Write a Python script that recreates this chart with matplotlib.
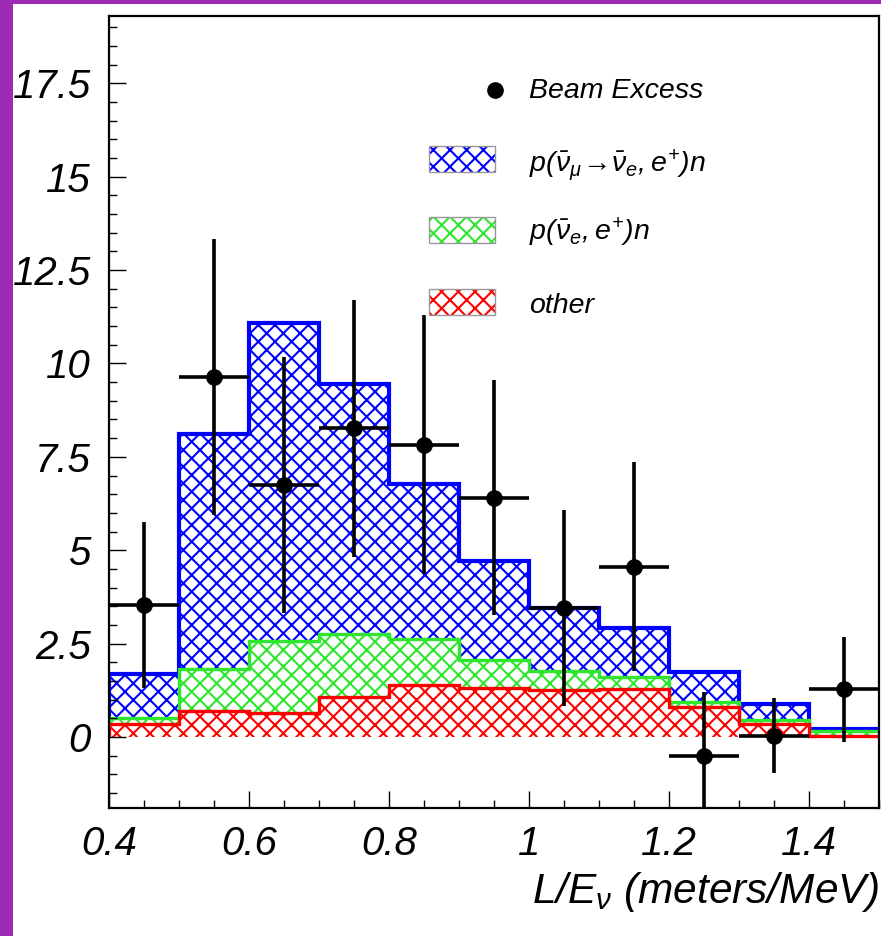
import numpy as np
import matplotlib
matplotlib.use('Agg')
import matplotlib.pyplot as plt
from matplotlib.patches import Rectangle
from matplotlib.ticker import MultipleLocator, FixedLocator, FixedFormatter

plt.rcParams['font.family'] = ['Liberation Sans', 'DejaVu Sans']
plt.rcParams['font.style'] = 'italic'
plt.rcParams['mathtext.fontset'] = 'custom'
plt.rcParams['mathtext.it'] = 'Liberation Sans:italic'
plt.rcParams['mathtext.rm'] = 'Liberation Sans:italic'
plt.rcParams['mathtext.sf'] = 'Liberation Sans:italic'
plt.rcParams['hatch.linewidth'] = 1.5

# L/E bins (meters/MeV)
bin_edges = [0.4, 0.5, 0.6, 0.7, 0.8, 0.9, 1.0, 1.1, 1.2, 1.3, 1.4, 1.5]

# expected event components per bin
other_bkg = [0.34, 0.70, 0.63, 1.06, 1.38, 1.30, 1.26, 1.28, 0.81, 0.36, 0.03]
nue_bkg = [0.16, 1.11, 1.95, 1.71, 1.24, 0.76, 0.51, 0.33, 0.13, 0.10, 0.13]
osc_signal = [1.18, 6.29, 8.49, 6.67, 4.15, 2.65, 1.69, 1.31, 0.81, 0.42, 0.05]

# beam excess data points
excess_x = [0.45, 0.55, 0.65, 0.75, 0.85, 0.95, 1.05, 1.15, 1.25, 1.35, 1.45]
excess_y = [3.53, 9.64, 6.74, 8.26, 7.83, 6.41, 3.46, 4.56, -0.51, 0.04, 1.28]
excess_err = [2.23, 3.70, 3.43, 3.45, 3.46, 3.15, 2.62, 2.80, 1.72, 1.00, 1.40]

x_ticks = [0.4, 0.6, 0.8, 1.0, 1.2, 1.4]
x_tick_labels = ['0.4', '0.6', '0.8', '1', '1.2', '1.4']
y_ticks = [0, 2.5, 5, 7.5, 10, 12.5, 15, 17.5]
y_tick_labels = ['0', '2.5', '5', '7.5', '10', '12.5', '15', '17.5']

labels = [r'$p(\bar{\nu}_{\mu}\!\rightarrow\!\bar{\nu}_{e},e^{+})n$',
          r'$p(\bar{\nu}_{e},e^{+})n$',
          'other']
colors = ['#0000ff', '#2ee62e', '#ff0000']
line_w = [3.0, 2.4, 2.4]

edges = np.array(bin_edges)
widths = np.diff(edges)
red_top = np.array(other_bkg)
green_top = red_top + np.array(nue_bkg)
blue_top = green_top + np.array(osc_signal)
tops = [blue_top, green_top, red_top]

fig = plt.figure(figsize=(8.81, 9.36), dpi=100)
fig.patch.set_facecolor('#9c2ab2')
fig.patches.append(Rectangle((13 / 881, 0), 1, (936 - 4) / 936, transform=fig.transFigure,
                             facecolor='white', edgecolor='none', zorder=-10))

ax = fig.add_axes([109 / 881, (936 - 808) / 936, 770 / 881, 792 / 936])
ax.set_facecolor('white')

# stacked histograms, drawn back to front
for top, col, lw in zip(tops, colors, line_w):
    ax.bar(edges[:-1], top, width=widths, align='edge', facecolor='white',
           edgecolor=col, hatch='xx', linewidth=0)
    ax.stairs(top, edges, baseline=0, color=col, linewidth=lw)

ax.errorbar(excess_x, excess_y, yerr=excess_err, xerr=0.05, fmt='o', color='black',
            markersize=11, elinewidth=2.6, capsize=0, zorder=5)

ax.set_xlim(0.4, 1.5)
ax.set_ylim(-1.9, 19.3)

ax.xaxis.set_major_locator(FixedLocator(x_ticks))
ax.xaxis.set_major_formatter(FixedFormatter(x_tick_labels))
ax.xaxis.set_minor_locator(MultipleLocator(0.05))
ax.yaxis.set_major_locator(FixedLocator(y_ticks))
ax.yaxis.set_major_formatter(FixedFormatter(y_tick_labels))
ax.yaxis.set_minor_locator(MultipleLocator(0.5))

ax.tick_params(which='both', direction='in', top=False, right=False, width=1.0)
ax.tick_params(which='major', length=12, labelsize=29)
ax.tick_params(axis='y', which='major', pad=13)
ax.tick_params(axis='x', which='major', pad=12)
ax.tick_params(which='minor', length=6)
for s in ax.spines.values():
    s.set_linewidth(1.6)

ax.set_xlabel(r'$L/E_{\nu}$ (meters/MeV)', fontsize=30.5, loc='right', labelpad=5)

# legend
ax.plot([0.501], [0.9066], 'o', color='black', markersize=11, transform=ax.transAxes,
        clip_on=False)
ax.text(0.5455, 0.8965, 'Beam Excess', fontsize=20.5, transform=ax.transAxes, va='baseline')
box_y = [0.8030, 0.7130, 0.6225]
text_y = [0.8030, 0.7172, 0.6250]
for by, ty, col, lab in zip(box_y, text_y, colors, labels):
    ax.add_patch(Rectangle((0.4156, by), 0.0857, 0.0328, transform=ax.transAxes,
                           facecolor='white', edgecolor=col, hatch='xx', linewidth=0))
    ax.add_patch(Rectangle((0.4156, by), 0.0857, 0.0328, transform=ax.transAxes,
                           facecolor='none', edgecolor='#999999', linewidth=1.0))
    ax.text(0.5455, ty, lab, fontsize=20.5, transform=ax.transAxes, va='baseline')

fig.savefig('out.png', dpi=100, facecolor=fig.get_facecolor())
